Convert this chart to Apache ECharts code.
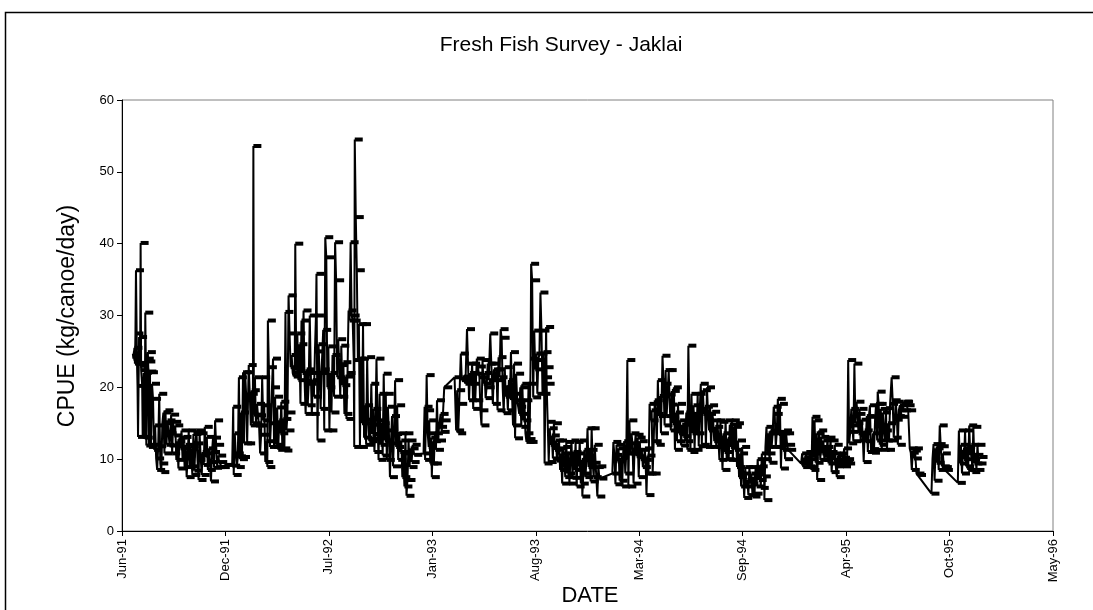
<!DOCTYPE html>
<html><head><meta charset="utf-8">
<script src="https://cdn.jsdelivr.net/npm/echarts@6.0.0/dist/echarts.min.js"></script>
<style>html,body{margin:0;padding:0;background:#fff}#c{width:1093px;height:610px}</style>
</head><body><div id="c"></div>
<script>
const titleText = 'Fresh Fish Survey - Jaklai';
const yAxisTitle = 'CPUE (kg/canoe/day)';
const xAxisTitle = 'DATE';
const axisStartDate = '1991-06-10';
const axisSpanDays = 1800;
const tickStepDays = 200;
const yTickValues = [0, 10, 20, 30, 40, 50, 60];
const monthNames = ['Jan','Feb','Mar','Apr','May','Jun','Jul','Aug','Sep','Oct','Nov','Dec'];

const data1991 = [
['1991-07-01',24.7],['1991-07-02',24.0],['1991-07-04',25.5],['1991-07-05',23.3],['1991-07-06',27.5],['1991-07-07',36.3],['1991-07-09',23.4],['1991-07-10',20.2],['1991-07-11',13.1],['1991-07-13',27.0],['1991-07-15',23.0],['1991-07-16',40.1],['1991-07-17',22.4],['1991-07-19',20.3],['1991-07-20',13.1],['1991-07-22',22.0],['1991-07-24',13.0],['1991-07-25',30.4],['1991-07-26',24.0],['1991-07-27',11.9],['1991-07-29',23.6],['1991-07-30',24.9],['1991-07-31',22.2],
['1991-08-01',11.7],['1991-08-03',22.1],['1991-08-05',12.0],['1991-08-07',20.5],['1991-08-09',18.4],['1991-08-11',11.3],['1991-08-13',14.7],['1991-08-15',10.1],['1991-08-17',8.5],['1991-08-19',11.8],['1991-08-21',19.1],['1991-08-23',9.4],['1991-08-25',8.2],['1991-08-27',15.0],['1991-08-29',16.5],['1991-08-31',10.8],
['1991-09-02',16.8],['1991-09-04',12.0],['1991-09-06',15.4],['1991-09-08',13.6],['1991-09-10',11.9],['1991-09-13',16.2],['1991-09-15',10.8],['1991-09-17',15.2],['1991-09-19',13.3],['1991-09-21',14.7],['1991-09-23',9.9],['1991-09-25',12.5],['1991-09-27',8.7],['1991-09-29',13.0],
['1991-10-01',11.5],['1991-10-03',14.0],['1991-10-05',10.1],['1991-10-07',13.1],['1991-10-09',8.9],['1991-10-11',12.0],['1991-10-13',7.5],['1991-10-15',10.5],['1991-10-17',14.0],['1991-10-19',9.0],['1991-10-21',11.8],['1991-10-24',7.8],['1991-10-26',13.5],['1991-10-28',8.4],['1991-10-30',12.2],
['1991-11-01',14.0],['1991-11-03',9.9],['1991-11-05',7.1],['1991-11-07',13.6],['1991-11-09',10.5],['1991-11-11',7.8],['1991-11-13',11.0],['1991-11-15',9.2],['1991-11-17',14.5],['1991-11-19',10.8],['1991-11-21',13.1],['1991-11-23',8.5],['1991-11-25',11.5],['1991-11-27',9.6],['1991-11-29',6.9],
['1991-12-01',11.0],['1991-12-03',13.0],['1991-12-05',8.8],['1991-12-07',15.4],['1991-12-09',12.0],['1991-12-11',8.9],['1991-12-13',10.5],['1991-12-15',9.6],['1991-12-20',8.9],['1991-12-27',9.2]
];
const data1992 = [
['1992-01-09',9.1],['1992-01-11',17.3],['1992-01-12',7.8],['1992-01-14',13.6],['1992-01-16',10.8],['1992-01-18',8.9],['1992-01-20',10.4],['1992-01-22',21.4],['1992-01-24',10.0],['1992-01-26',16.5],['1992-01-28',10.3],['1992-01-30',22.1],
['1992-02-01',12.2],['1992-02-03',22.1],['1992-02-05',19.0],['1992-02-07',12.2],['1992-02-10',23.1],['1992-02-12',19.1],['1992-02-14',14.7],['1992-02-16',19.6],['1992-02-18',15.0],['1992-02-19',53.6],['1992-02-20',16.2],['1992-02-22',21.4],['1992-02-24',14.7],['1992-02-26',17.7],['1992-02-28',16.1],
['1992-03-01',14.7],['1992-03-03',10.8],['1992-03-05',13.4],['1992-03-07',21.4],['1992-03-09',15.4],['1992-03-11',17.5],['1992-03-13',9.6],['1992-03-15',12.5],['1992-03-17',8.9],['1992-03-18',29.3],['1992-03-20',22.8],['1992-03-22',11.7],['1992-03-24',15.0],['1992-03-26',20.0],['1992-03-28',24.0],['1992-03-30',11.7],
['1992-04-01',18.7],['1992-04-03',12.0],['1992-04-05',17.2],['1992-04-07',11.3],['1992-04-09',15.4],['1992-04-11',13.6],['1992-04-13',18.0],['1992-04-15',11.5],['1992-04-17',15.6],['1992-04-19',11.2],['1992-04-21',30.5],['1992-04-23',14.0],['1992-04-25',16.5],['1992-04-27',32.8],['1992-04-29',27.5],
['1992-05-01',22.8],['1992-05-03',24.5],['1992-05-05',22.0],['1992-05-07',21.5],['1992-05-09',22.8],['1992-05-10',40.0],['1992-05-12',22.3],['1992-05-14',27.5],['1992-05-16',21.0],['1992-05-18',26.0],['1992-05-20',17.7],['1992-05-22',29.3],['1992-05-24',22.0],['1992-05-26',30.7],['1992-05-28',20.9],['1992-05-30',16.3],
['1992-06-01',22.5],['1992-06-03',17.5],['1992-06-05',20.5],['1992-06-07',30.0],['1992-06-09',22.0],['1992-06-11',16.3],['1992-06-13',21.0],['1992-06-15',18.7],['1992-06-17',25.0],['1992-06-19',30.0],['1992-06-20',35.8],['1992-06-22',12.6],['1992-06-24',26.0],['1992-06-26',22.0],['1992-06-28',17.0],['1992-06-30',22.5],
['1992-07-03',28.0],['1992-07-05',14.0],['1992-07-07',40.9],['1992-07-09',38.1],['1992-07-11',20.0],['1992-07-13',25.7],['1992-07-15',14.0],['1992-07-17',22.0],['1992-07-19',16.5],['1992-07-21',24.5],['1992-07-24',18.7],['1992-07-26',40.2],['1992-07-28',34.9],['1992-07-30',21.4],
['1992-08-01',26.7],['1992-08-03',23.1],['1992-08-05',18.7],['1992-08-07',25.8],['1992-08-09',20.3],['1992-08-11',23.5],['1992-08-13',16.3],['1992-08-15',21.5],['1992-08-17',15.6],['1992-08-19',22.0],['1992-08-21',30.7],['1992-08-23',29.3],['1992-08-25',40.2],['1992-08-27',30.0],['1992-08-29',29.3],['1992-08-31',23.8],
['1992-09-01',11.7],['1992-09-02',54.5],['1992-09-04',43.7],['1992-09-06',36.3],['1992-09-08',24.0],['1992-09-10',28.8],['1992-09-12',11.7],['1992-09-14',24.0],['1992-09-16',15.0],['1992-09-18',28.8],['1992-09-20',13.0],['1992-09-22',17.5],['1992-09-24',12.0],['1992-09-26',24.2],['1992-09-28',15.5],['1992-09-30',12.5],
['1992-10-02',12.9],['1992-10-04',20.5],['1992-10-06',13.5],['1992-10-08',17.0],['1992-10-10',11.0],['1992-10-12',14.8],['1992-10-14',24.0],['1992-10-16',15.4],['1992-10-18',9.9],['1992-10-20',19.1],['1992-10-22',12.0],['1992-10-24',15.0],['1992-10-26',10.5],['1992-10-28',21.9],['1992-10-30',12.6],
['1992-11-01',19.1],['1992-11-03',9.9],['1992-11-05',17.3],['1992-11-07',14.0],['1992-11-09',7.5],['1992-11-11',12.2],['1992-11-13',16.0],['1992-11-15',9.0],['1992-11-17',13.5],['1992-11-19',21.0],['1992-11-21',11.7],['1992-11-23',17.5],['1992-11-25',9.9],['1992-11-27',13.6],['1992-11-29',11.0],
['1992-12-01',12.6],['1992-12-03',7.5],['1992-12-05',10.8],['1992-12-07',6.2],['1992-12-09',13.6],['1992-12-11',4.9],['1992-12-13',7.1],['1992-12-15',12.6],['1992-12-17',8.9],['1992-12-19',11.5],['1992-12-21',9.6],['1992-12-23',12.0],['1992-12-26',10.6]
];
const data1993 = [
['1993-01-13',10.8],['1993-01-15',17.3],['1993-01-16',9.9],['1993-01-18',16.8],['1993-01-19',21.7],['1993-01-21',13.6],['1993-01-23',11.7],['1993-01-24',15.4],['1993-01-26',9.4],['1993-01-28',13.0],['1993-01-29',7.5],['1993-01-31',12.5],
['1993-02-02',9.4],['1993-02-04',13.6],['1993-02-06',11.3],['1993-02-08',18.2],['1993-02-10',12.6],['1993-02-12',14.5],['1993-02-15',16.3],['1993-02-17',13.8],['1993-02-19',15.4],['1993-02-22',20.0],
['1993-03-14',21.4],['1993-03-17',14.0],['1993-03-19',19.6],['1993-03-21',13.6],['1993-03-23',17.7],['1993-03-26',24.7],['1993-03-28',21.0],['1993-03-30',21.4],
['1993-04-01',21.5],['1993-04-04',20.5],['1993-04-07',28.1],['1993-04-09',23.3],['1993-04-11',18.2],['1993-04-13',22.0],['1993-04-15',20.5],['1993-04-17',23.3],['1993-04-19',17.0],['1993-04-21',21.9],['1993-04-23',18.2],['1993-04-26',24.0],['1993-04-28',22.9],
['1993-05-01',21.4],['1993-05-03',16.8],['1993-05-05',14.7],['1993-05-07',23.8],['1993-05-09',20.5],['1993-05-11',22.0],['1993-05-13',18.5],['1993-05-15',20.0],['1993-05-17',23.3],['1993-05-19',21.0],['1993-05-22',27.5],['1993-05-24',23.3],['1993-05-27',17.7],['1993-05-29',22.5],
['1993-06-01',21.0],['1993-06-03',22.5],['1993-06-05',16.8],['1993-06-07',24.2],['1993-06-09',21.4],['1993-06-11',28.1],['1993-06-13',26.9],['1993-06-15',20.0],['1993-06-17',16.4],['1993-06-19',22.8],['1993-06-21',18.7],['1993-06-23',20.0],['1993-06-25',16.8],['1993-06-27',21.0],['1993-06-29',18.5],
['1993-07-01',24.9],['1993-07-03',19.1],['1993-07-05',14.7],['1993-07-07',23.3],['1993-07-09',12.9],['1993-07-11',21.9],['1993-07-13',18.2],['1993-07-15',17.3],['1993-07-17',16.3],['1993-07-19',20.0],['1993-07-21',14.5],['1993-07-23',20.5],['1993-07-25',15.4],['1993-07-27',18.2],['1993-07-29',13.6],['1993-07-31',12.4],
['1993-08-02',12.8],['1993-08-04',20.5],['1993-08-06',12.4],['1993-08-08',24.0],['1993-08-09',37.2],['1993-08-11',34.9],['1993-08-13',18.6],['1993-08-15',27.9],['1993-08-17',22.5],['1993-08-19',24.7],['1993-08-21',19.1],['1993-08-23',23.8],['1993-08-25',24.7],['1993-08-27',33.2],['1993-08-29',27.9],['1993-08-31',19.1],
['1993-09-02',24.9],['1993-09-03',21.4],['1993-09-04',9.4],['1993-09-06',22.8],['1993-09-07',28.4],['1993-09-08',20.5],['1993-09-10',15.2],['1993-09-12',9.6],['1993-09-14',14.3],['1993-09-16',12.0],['1993-09-18',13.3],['1993-09-20',10.1],['1993-09-22',15.0],['1993-09-24',11.3],['1993-09-26',12.6],['1993-09-28',9.8],['1993-09-30',11.5],
['1993-10-02',12.6],['1993-10-04',8.5],['1993-10-06',10.8],['1993-10-08',6.6],['1993-10-10',11.7],['1993-10-12',9.9],['1993-10-14',7.5],['1993-10-16',12.4],['1993-10-18',8.0],['1993-10-20',10.8],['1993-10-22',6.6],['1993-10-24',9.9],['1993-10-26',12.6],['1993-10-28',7.4],['1993-10-30',11.0],
['1993-11-01',8.5],['1993-11-03',12.4],['1993-11-05',6.2],['1993-11-07',10.8],['1993-11-09',9.0],['1993-11-11',12.6],['1993-11-13',6.6],['1993-11-15',9.9],['1993-11-16',4.8],['1993-11-18',8.0],['1993-11-20',11.3],['1993-11-22',7.5],['1993-11-24',9.9],['1993-11-26',14.3],['1993-11-28',8.9],['1993-11-30',11.3],
['1993-12-02',6.9],['1993-12-04',14.3],['1993-12-06',9.5],['1993-12-08',7.5],['1993-12-10',12.0],['1993-12-12',8.9],['1993-12-15',4.8],['1993-12-17',9.0],['1993-12-19',7.3]
];
const data1994 = [
['1994-01-13',8.0],['1994-01-15',12.4],['1994-01-17',10.6],['1994-01-19',6.5],['1994-01-21',12.0],['1994-01-23',9.7],['1994-01-25',11.5],['1994-01-27',7.0],['1994-01-29',10.2],
['1994-02-01',6.2],['1994-02-03',11.0],['1994-02-05',12.5],['1994-02-07',8.0],['1994-02-09',10.8],['1994-02-11',23.8],['1994-02-13',6.2],['1994-02-15',15.4],['1994-02-17',10.8],['1994-02-19',13.6],['1994-02-21',12.2],['1994-02-23',6.6],['1994-02-25',11.3],['1994-02-27',13.4],
['1994-03-01',10.4],['1994-03-03',13.0],['1994-03-05',7.5],['1994-03-07',12.5],['1994-03-09',10.0],['1994-03-11',11.3],['1994-03-13',8.9],['1994-03-15',9.9],['1994-03-17',11.5],['1994-03-19',8.0],['1994-03-20',5.0],['1994-03-22',10.5],['1994-03-24',8.0],['1994-03-26',17.7],['1994-03-28',15.4],['1994-03-30',16.8],
['1994-04-01',8.0],['1994-04-03',12.5],['1994-04-05',18.2],['1994-04-07',16.3],['1994-04-09',12.0],['1994-04-11',21.0],['1994-04-13',16.0],['1994-04-15',18.8],['1994-04-17',13.6],['1994-04-20',24.4],['1994-04-22',20.5],['1994-04-24',14.7],['1994-04-26',22.4],['1994-04-28',16.0],['1994-04-30',19.0],
['1994-05-02',22.4],['1994-05-04',17.6],['1994-05-06',14.0],['1994-05-08',19.5],['1994-05-10',15.0],['1994-05-12',20.0],['1994-05-14',11.3],['1994-05-16',16.5],['1994-05-18',12.5],['1994-05-20',17.7],['1994-05-22',13.6],['1994-05-24',15.4],['1994-05-26',11.9],['1994-05-28',14.8],['1994-05-30',13.2],
['1994-06-01',15.0],['1994-06-03',12.5],['1994-06-05',16.5],['1994-06-07',11.3],['1994-06-09',25.8],['1994-06-11',16.3],['1994-06-13',11.0],['1994-06-15',19.1],['1994-06-17',13.6],['1994-06-19',17.5],['1994-06-21',11.3],['1994-06-23',16.3],['1994-06-25',13.6],['1994-06-27',19.1],['1994-06-29',11.8],
['1994-07-01',16.8],['1994-07-03',20.5],['1994-07-05',12.0],['1994-07-07',19.6],['1994-07-09',16.3],['1994-07-11',17.3],['1994-07-13',11.7],['1994-07-15',20.0],['1994-07-17',16.3],['1994-07-19',14.0],['1994-07-21',17.5],['1994-07-23',11.7],['1994-07-25',16.6],['1994-07-27',15.4],['1994-07-29',12.5],['1994-07-31',14.5],
['1994-08-02',11.7],['1994-08-04',15.4],['1994-08-06',13.0],['1994-08-08',9.9],['1994-08-10',15.2],['1994-08-12',12.6],['1994-08-14',8.5],['1994-08-16',13.6],['1994-08-18',11.0],['1994-08-20',15.4],['1994-08-22',10.0],['1994-08-24',12.8],['1994-08-26',9.9],['1994-08-28',14.8],['1994-08-30',11.7],
['1994-09-01',15.4],['1994-09-03',9.9],['1994-09-05',14.5],['1994-09-07',11.3],['1994-09-09',15.0],['1994-09-11',8.9],['1994-09-13',12.6],['1994-09-15',7.5],['1994-09-17',10.8],['1994-09-19',6.2],['1994-09-21',11.7],['1994-09-23',8.0],['1994-09-25',4.6],['1994-09-27',8.9],['1994-09-29',6.2],
['1994-10-01',7.1],['1994-10-03',5.0],['1994-10-05',8.9],['1994-10-07',6.6],['1994-10-09',8.0],['1994-10-11',4.8],['1994-10-13',7.5],['1994-10-15',5.2],['1994-10-17',8.9],['1994-10-19',6.2],['1994-10-21',10.0],['1994-10-23',7.1],['1994-10-25',9.0],['1994-10-27',6.0],['1994-10-29',10.8],['1994-10-31',7.6],
['1994-11-02',10.0],['1994-11-03',4.3],['1994-11-05',11.7],['1994-11-07',14.5],['1994-11-09',10.8],['1994-11-11',13.6],['1994-11-13',9.5],['1994-11-15',14.0],['1994-11-17',11.7],['1994-11-19',13.6],['1994-11-21',17.3],['1994-11-23',16.3],['1994-11-25',11.7],['1994-11-27',13.8],['1994-11-29',18.4],
['1994-12-01',13.5],['1994-12-03',17.7],['1994-12-05',8.7],['1994-12-07',13.6],['1994-12-09',11.3],['1994-12-11',14.0],['1994-12-13',10.0],['1994-12-15',13.6],['1994-12-17',12.0],['1994-12-19',11.3]
];
const data1995 = [
['1995-01-13',9.4],['1995-01-15',10.8],['1995-01-17',8.9],['1995-01-19',10.2],['1995-01-21',9.5],['1995-01-23',11.0],['1995-01-25',9.0],['1995-01-27',10.5],['1995-01-29',8.9],['1995-01-31',10.0],
['1995-02-02',8.5],['1995-02-04',15.9],['1995-02-06',10.8],['1995-02-08',15.4],['1995-02-10',9.5],['1995-02-12',13.6],['1995-02-13',7.1],['1995-02-15',11.7],['1995-02-17',14.0],['1995-02-19',9.9],['1995-02-21',13.1],['1995-02-23',10.8],['1995-02-25',12.6],['1995-02-27',9.9],
['1995-03-01',11.7],['1995-03-03',10.2],['1995-03-05',13.0],['1995-03-07',9.4],['1995-03-09',11.0],['1995-03-11',12.6],['1995-03-13',8.2],['1995-03-15',10.8],['1995-03-17',9.9],['1995-03-19',12.0],['1995-03-21',9.0],['1995-03-23',7.5],['1995-03-25',10.5],['1995-03-27',9.2],['1995-03-29',10.8],['1995-03-31',9.4],
['1995-04-02',10.2],['1995-04-04',9.0],['1995-04-06',11.5],['1995-04-08',9.6],['1995-04-10',10.0],['1995-04-12',9.4],['1995-04-14',23.8],['1995-04-16',12.2],['1995-04-18',13.8],['1995-04-20',17.0],['1995-04-22',14.7],['1995-04-24',12.5],['1995-04-26',23.3],['1995-04-28',15.0],['1995-04-30',18.0],
['1995-05-02',16.3],['1995-05-04',13.6],['1995-05-06',17.0],['1995-05-08',12.6],['1995-05-10',15.5],['1995-05-12',13.6],['1995-05-14',9.6],['1995-05-16',14.0],['1995-05-18',12.5],['1995-05-20',16.0],['1995-05-22',11.0],['1995-05-24',15.9],['1995-05-26',17.5],['1995-05-28',11.4],['1995-05-30',10.9],
['1995-06-01',13.6],['1995-06-03',11.3],['1995-06-05',15.5],['1995-06-07',17.7],['1995-06-09',12.6],['1995-06-10',19.4],['1995-06-12',17.7],['1995-06-14',12.0],['1995-06-16',17.0],['1995-06-18',11.3],['1995-06-20',16.5],['1995-06-22',14.0],['1995-06-24',12.6],['1995-06-26',17.1],['1995-06-28',11.3],['1995-06-30',15.0],
['1995-07-02',12.6],['1995-07-04',17.7],['1995-07-07',21.4],['1995-07-09',18.2],['1995-07-11',13.0],['1995-07-13',15.5],['1995-07-15',18.0],['1995-07-17',16.0],['1995-07-19',12.0],['1995-07-21',16.8],['1995-07-23',17.5],['1995-07-25',15.9],['1995-07-27',17.6],['1995-07-29',16.8],['1995-07-31',18.0],
['1995-08-02',18.0],['1995-08-05',17.5],['1995-08-08',16.8],['1995-08-11',11.5],['1995-08-13',10.9],['1995-08-15',8.5],['1995-08-17',11.2],['1995-08-19',10.1],['1995-08-21',11.5],['1995-08-24',8.0],['1995-08-27',7.8],
['1995-09-22',5.2],['1995-09-24',10.0],['1995-09-26',12.1],['1995-09-28',7.0],['1995-09-30',11.5],
['1995-10-02',9.5],['1995-10-04',12.1],['1995-10-06',8.5],['1995-10-08',14.7],['1995-10-10',11.8],['1995-10-12',9.0],['1995-10-14',10.8],['1995-10-16',8.9],['1995-10-18',8.5],
['1995-11-12',6.7],['1995-11-14',14.0],['1995-11-16',9.4],['1995-11-18',12.0],['1995-11-20',8.0],['1995-11-22',11.3],['1995-11-24',10.0],['1995-11-26',14.0],['1995-11-28',9.0],['1995-11-30',11.7],
['1995-12-02',8.5],['1995-12-04',14.7],['1995-12-06',10.6],['1995-12-08',12.0],['1995-12-10',8.2],['1995-12-12',14.5],['1995-12-14',9.4],['1995-12-16',10.6],['1995-12-18',8.5],['1995-12-20',12.0],['1995-12-22',9.4],['1995-12-24',10.3]
];

const DAY = 86400000;
const t0 = Date.parse(axisStartDate + 'T00:00:00Z');
function dayOffset(s) { return (Date.parse(s + 'T00:00:00Z') - t0) / DAY; }
function dateLabel(v) {
  const d = new Date(t0 + v * DAY);
  return monthNames[d.getUTCMonth()] + '-' + String(d.getUTCFullYear()).slice(2);
}
const allPoints = [].concat(data1991, data1992, data1993, data1994, data1995)
  .map(p => [dayOffset(p[0]), p[1]]);

const FONT = 'Arial, "Liberation Sans", sans-serif';
const chart = echarts.init(document.getElementById('c'), null, {renderer: 'canvas'});
chart.setOption({
  animation: false,
  backgroundColor: '#ffffff',
  grid: {left: 122, right: 40, top: 100, bottom: 79, show: true, borderColor: '#808080', borderWidth: 1, backgroundColor: 'transparent'},
  xAxis: {
    type: 'value', min: 0, max: axisSpanDays, interval: tickStepDays,
    axisLine: {show: true, onZero: false, lineStyle: {color: '#000', width: 1}},
    axisTick: {show: true, inside: false, length: 5, lineStyle: {color: '#000'}},
    splitLine: {show: false},
    axisLabel: {rotate: 90, margin: 8, color: '#000', fontSize: 13, fontFamily: FONT, formatter: dateLabel}
  },
  yAxis: {
    type: 'value', min: yTickValues[0], max: yTickValues[yTickValues.length - 1], interval: 10,
    axisLine: {show: true, lineStyle: {color: '#000', width: 1}},
    axisTick: {show: true, inside: false, length: 5, lineStyle: {color: '#000'}},
    splitLine: {show: false},
    axisLabel: {margin: 8, color: '#000', fontSize: 13, fontFamily: FONT}
  },
  graphic: [
    {type: 'rect', silent: true, shape: {x: 5.5, y: 12.5, width: 1200, height: 700}, style: {fill: 'none', stroke: '#000', lineWidth: 1.5}},
    {type: 'text', x: 561, y: 45, style: {text: titleText, fontSize: 21, fontFamily: FONT, fill: '#000', textAlign: 'center', textVerticalAlign: 'middle'}},
    {type: 'text', x: 68, y: 316, rotation: Math.PI / 2, style: {text: yAxisTitle, fontSize: 23, fontFamily: FONT, fill: '#000', textAlign: 'center', textVerticalAlign: 'middle'}},
    {type: 'text', x: 590, y: 596, style: {text: xAxisTitle, fontSize: 22, fontFamily: FONT, fill: '#000', textAlign: 'center', textVerticalAlign: 'middle'}}
  ],
  series: [{
    type: 'line',
    data: allPoints,
    showSymbol: true,
    symbol: 'rect',
    symbolSize: [8, 4],
    symbolOffset: [4, 0],
    itemStyle: {color: '#000'},
    lineStyle: {color: '#000', width: 2},
    emphasis: {disabled: true},
    clip: false
  }]
});
</script></body></html>
